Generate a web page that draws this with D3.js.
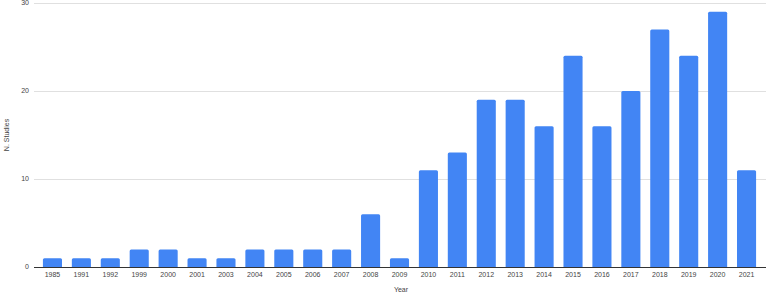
<!DOCTYPE html>
<html lang="en">
<head>
<meta charset="UTF-8">
<title>N. Studies by Year</title>
<script src="https://d3js.org/d3.v7.min.js"></script>
<style>
    body { margin: 0; background: #fff; }
    svg { display: block; font-family: "Liberation Sans", Arial, sans-serif; }
</style>
</head>
<body>
<div id="chart"></div>
<script>
// data
const years = ["1985", "1991", "1992", "1999", "2000", "2001", "2003", "2004", "2005", "2006", "2007", "2008", "2009",
    "2010", "2011", "2012", "2013", "2014", "2015", "2016", "2017", "2018", "2019", "2020", "2021"];
const studies = [1, 1, 1, 2, 2, 1, 1, 2, 2, 2, 2, 6, 1, 11, 13, 19, 19, 16, 24, 16, 20, 27, 24, 29, 11];
const yTicks = [0, 10, 20, 30];

const width = 768, height = 294;
const margin = { top: 3, right: 2, bottom: 27, left: 34 };

const x = d3.scaleBand()
    .domain(years)
    .range([38, 761])
    .paddingInner(0.34)
    .paddingOuter(0.17);

const y = d3.scaleLinear()
    .domain([0, 30])
    .range([height - margin.bottom, margin.top]);

const svg = d3.select("#chart").append("svg")
    .attr("width", width)
    .attr("height", height);

// gridlines
svg.append("g")
    .selectAll("line")
    .data(yTicks.filter(d => d > 0))
    .enter().append("line")
    .attr("x1", margin.left)
    .attr("x2", width - margin.right)
    .attr("y1", d => y(d) + 0.5)
    .attr("y2", d => y(d) + 0.5)
    .attr("stroke", "#e0e0e0");

// y tick labels
svg.append("g")
    .selectAll("text")
    .data(yTicks)
    .enter().append("text")
    .attr("x", margin.left - 5)
    .attr("y", d => y(d))
    .attr("dy", "0.35em")
    .attr("text-anchor", "end")
    .attr("font-size", 7)
    .attr("fill", "#444")
    .text(d => d);

// bars with slightly rounded tops
svg.append("g")
    .selectAll("path")
    .data(years.map((yr, i) => ({ yr, v: studies[i] })))
    .enter().append("path")
    .attr("fill", "#4285f4")
    .attr("d", d => {
        const x0 = x(d.yr), w = x.bandwidth();
        const y0 = y(d.v), y1 = y(0), r = 1.5;
        return `M${x0},${y1}V${y0 + r}Q${x0},${y0} ${x0 + r},${y0}H${x0 + w - r}Q${x0 + w},${y0} ${x0 + w},${y0 + r}V${y1}Z`;
    });

// baseline
svg.append("line")
    .attr("x1", margin.left)
    .attr("x2", width - margin.right)
    .attr("y1", y(0) + 0.5)
    .attr("y2", y(0) + 0.5)
    .attr("stroke", "#333");

// x tick labels
svg.append("g")
    .selectAll("text")
    .data(years)
    .enter().append("text")
    .attr("x", d => x(d) + x.bandwidth() / 2)
    .attr("y", y(0) + 10)
    .attr("text-anchor", "middle")
    .attr("font-size", 7)
    .attr("fill", "#444")
    .text(d => d);

// axis titles
svg.append("text")
    .attr("x", 401)
    .attr("y", 292)
    .attr("text-anchor", "middle")
    .attr("font-size", 7)
    .attr("fill", "#444")
    .text("Year");

svg.append("text")
    .attr("transform", "translate(9,135) rotate(-90)")
    .attr("text-anchor", "middle")
    .attr("font-size", 7)
    .attr("fill", "#444")
    .text("N. Studies");
</script>
</body>
</html>
